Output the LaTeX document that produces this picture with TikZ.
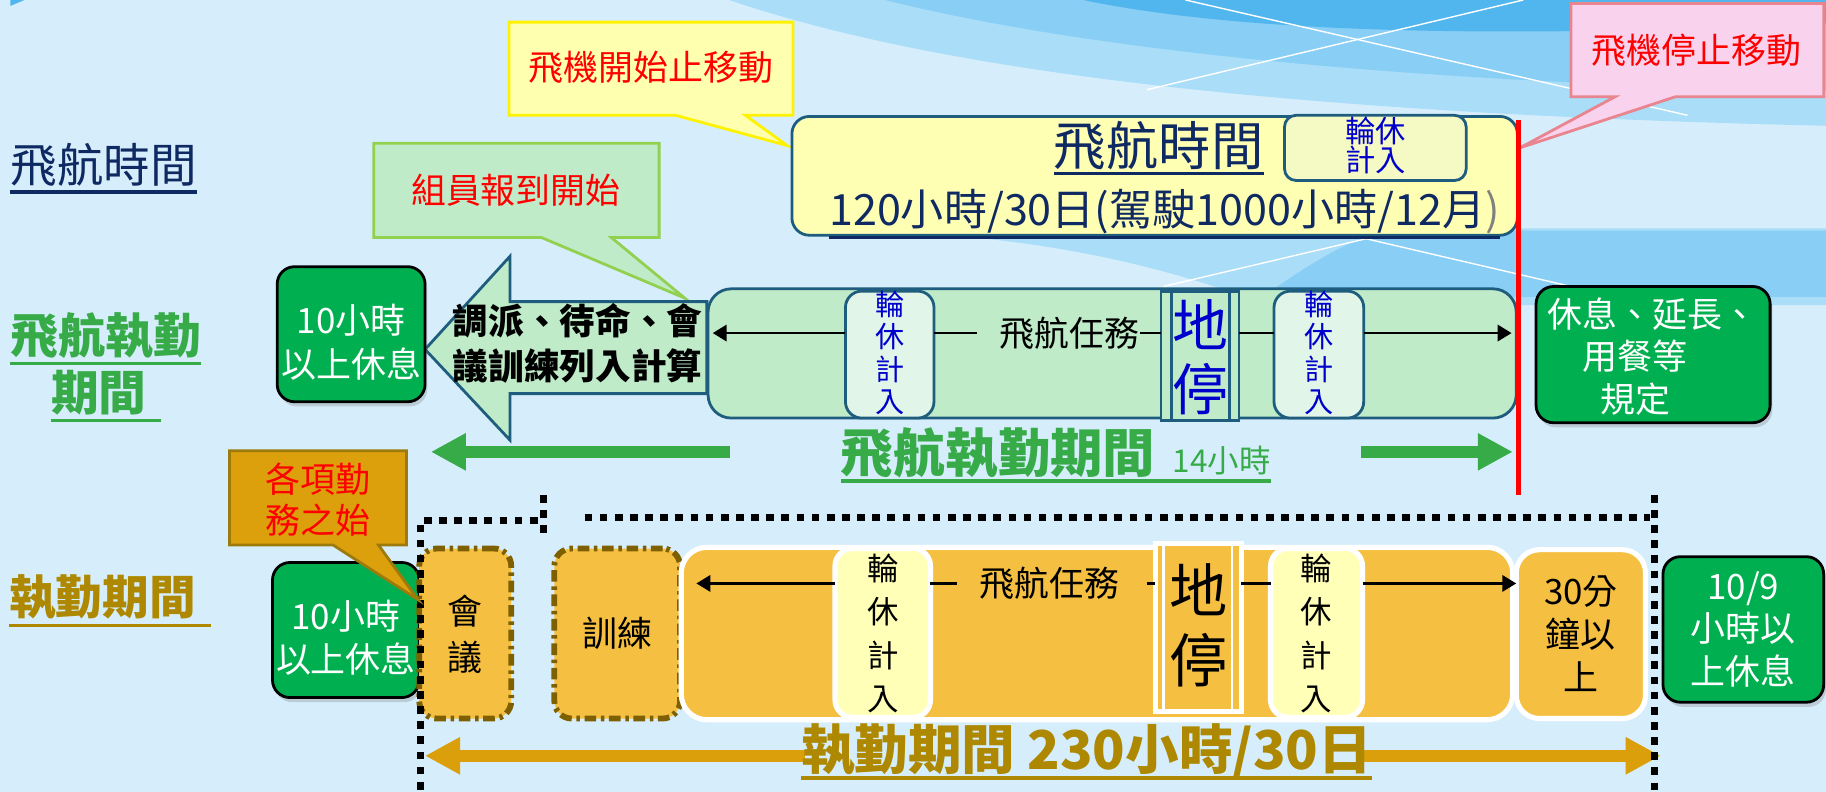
\documentclass[tikz,border=0pt]{standalone}
\usepackage{fontspec}
\setmainfont{Noto Sans CJK TC}
\usetikzlibrary{arrows.meta,calc,shadows}
\newcommand\fsz[2]{\fontsize{#1}{#2}\selectfont}
\definecolor{bgc}{HTML}{D6EEFC}
\definecolor{w1}{HTML}{A9DDF8}
\definecolor{w2}{HTML}{88CEF5}
\definecolor{w3}{HTML}{52B6EE}
\definecolor{navyc}{HTML}{0F2A62}
\definecolor{tealc}{HTML}{1E5D7E}
\definecolor{lgreen}{HTML}{BFEBC9}
\definecolor{lgreen2}{HTML}{E1F6E8}
\definecolor{gtextc}{HTML}{38AB49}
\definecolor{dgreen}{HTML}{00B050}
\definecolor{lyel}{HTML}{FFFFB4}
\definecolor{lyel2}{HTML}{F5F9C4}
\definecolor{orangec}{HTML}{F5BF42}
\definecolor{yelc3}{HTML}{FFFFB8}
\definecolor{goldt}{HTML}{AD8800}
\definecolor{goldarrow}{HTML}{DA9F0A}
\definecolor{brownc}{HTML}{7F6000}
\definecolor{cyelf}{HTML}{FFFFB0}
\definecolor{pinkf}{HTML}{F9D3EE}
\definecolor{pinkd}{HTML}{E8858F}
\definecolor{cgreenf}{HTML}{C0EBC8}
\definecolor{cgreend}{HTML}{92D050}
\definecolor{corangef}{HTML}{DBA00B}
\definecolor{coranged}{HTML}{9C7B0C}
\definecolor{bluec}{HTML}{0000CC}
\begin{document}
\begin{tikzpicture}[x=0.5pt,y=-0.5pt,
  every node/.style={inner sep=0pt,outer sep=0pt},
  tealbox/.style={draw=tealc,line width=1.2pt},
  greenbox/.style={fill=dgreen,draw=black,line width=1.2pt,rounded corners=7.5pt,
    drop shadow={opacity=0.3,shadow xshift=1pt,shadow yshift=-2pt}},
  whitetxt/.style={text=white,align=center},
  obox/.style={fill=orangec,draw=white,line width=2.2pt},
  dashbox/.style={fill=orangec,draw=brownc,line width=2.5pt,rounded corners=7.5pt,
    dash pattern=on 5pt off 2pt on 1.5pt off 2pt},
  conn/.style={line width=1.1pt,draw=black},
  conntip/.style={conn,-{Triangle[length=6pt,width=7pt]}},
  bigarrow/.style={line width=5pt,-{Triangle[length=15pt,width=15pt]}},
  dotline/.style={line width=3pt,dash pattern=on 3.3pt off 3.2pt},
  ulline/.style={line width=1.5pt},
  callout/.style={line width=1.2pt},
  vtxt/.style={align=center}
]
\useasboundingbox (0,0) rectangle (1568,680);
\fill[bgc] (0,0) rectangle (1568,680);
% background waves
\begin{scope}
\clip (0,0) rectangle (1568,680);
\fill[w1] (626,0) .. controls (760,45) and (1000,95) .. (1568,108) -- (1568,0) -- cycle;
\fill[w2] (760,0) .. controls (900,35) and (1150,70) .. (1568,78) -- (1568,0) -- cycle;
\fill[w3] (930,0) .. controls (1050,25) and (1250,35) .. (1568,20) -- (1568,0) -- cycle;
\fill[w1] (700,196) .. controls (900,200) and (1000,230) .. (1090,262) -- (1568,262) -- (1568,196) -- cycle;
\fill[w2] (1187,198) -- (1568,198) -- (1568,255) -- (1084,255) .. controls (1120,230) and (1150,210) .. (1187,198) -- cycle;
\draw[white,line width=0.6pt] (1018,0) -- (1449,99);
\draw[white,line width=0.6pt] (1308,0) -- (985,77);
\draw[white,line width=0.6pt] (999,246) -- (1173,205) -- (1349,246);
\fill[w3] (9,0) -- (21,0) -- (9,5) -- cycle;
\end{scope}

% left labels
\node[text=navyc,font=\fsz{20pt}{24pt}] (lab1) at (89,142) {飛航時間};
\draw[ulline,navyc] (lab1.west |- 0,165) -- (lab1.east |- 0,165);
\node[text=gtextc,font=\bfseries\fsz{20.5pt}{24pt}] (lab2a) at (91,288) {飛航執勤};
\draw[ulline,gtextc] (lab2a.west |- 0,312) -- (lab2a.east |- 0,312);
\node[text=gtextc,font=\bfseries\fsz{20.5pt}{24pt}] (lab2b) at (85,337) {期間};
\draw[ulline,gtextc] (lab2b.west |- 0,361) -- ($(lab2b.east |- 0,361)+(12,0)$);
\node[text=goldt,font=\bfseries\fsz{20pt}{24pt}] (lab3) at (88,513) {執勤期間};
\draw[ulline,goldt] (lab3.west |- 0,537) -- ($(lab3.east |- 0,537)+(13,0)$);

% callouts (top)
\filldraw[callout,fill=cyelf,draw=yellow] (437,19) -- (681,19) -- (681,99) -- (640,99) -- (676,125) -- (580,99) -- (437,99) -- cycle;
\node[text=red,font=\fsz{15pt}{18pt}] (cy) at (559,58) {飛機開始止移動};
\filldraw[callout,fill=pinkf,draw=pinkd] (1349,3) -- (1566,3) -- (1566,83) -- (1439,83) -- (1305,127) -- (1387,83) -- (1349,83) -- cycle;
\node[text=red,font=\fsz{15pt}{18pt}] (cp) at (1457,43) {飛機停止移動};
\filldraw[callout,fill=cgreenf,draw=cgreend] (321,123) -- (566,123) -- (566,204) -- (525,204) -- (588,256) -- (465,204) -- (321,204) -- cycle;
\node[text=red,font=\fsz{15pt}{18pt}] (cg) at (443,163) {組員報到開始};

% row 1: flight time
\node[tealbox,fill=lyel,rounded corners=7.5pt,minimum width=311.5pt,minimum height=51pt] (ftbox) at (991.5,151) {};
\node[tealbox,fill=lyel2,rounded corners=5pt,minimum width=78pt,minimum height=28pt] (ftrest) at (1181,127) {};
\node[text=bluec,font=\fsz{13pt}{12.5pt},align=center] (ftrestt) at (1181,125) {輪休\\計入};
\node[text=navyc,font=\fsz{22.5pt}{27pt}] (fttitle) at (995,125) {飛航時間};
\draw[line width=1.2pt,navyc] (fttitle.west |- 0,149) -- (fttitle.east |- 0,149);
\node[text=navyc,font=\fsz{18.5pt}{22pt}] (ftsub) at (1000,182) {120小時/30日(駕駛1000小時/12月\textcolor{gray}{)}};
\draw[line width=1.2pt,navyc] (ftsub.west |- 0,204) -- (ftsub.east |- 0,204);

% row 2: flight duty period
\filldraw[tealbox,fill=lgreen] (607,259) -- (438,259) -- (438,220) -- (365,300) -- (438,378) -- (438,338) -- (607,338) -- cycle;
\node[font=\bfseries\fsz{15.3pt}{19.5pt},align=center] (bat) at (496,295) {調派、待命、會\\議訓練列入計算};
\node[tealbox,fill=lgreen,rounded corners=10pt,minimum width=347pt,minimum height=55.5pt] (fdbar) at (955,303.5) {};
\node[tealbox,fill=lgreen2,rounded corners=7pt,minimum width=38pt,minimum height=54.5pt] (r1) at (764,304.5) {};
\node[vtxt,text=bluec,font=\fsz{12.5pt}{14pt}] (r1t) at (764,303) {輪\\休\\計\\入};
\node[tealbox,fill=lgreen,minimum width=33.5pt,minimum height=55.5pt] (dt1) at (1030.5,305.5) {};
\draw[tealbox] ($(dt1.north west)+(9,0)$) -- ($(dt1.south west)+(9,0)$);
\draw[tealbox] ($(dt1.north east)+(-8,0)$) -- ($(dt1.south east)+(-8,0)$);
\node[vtxt,text=bluec,font=\fsz{24pt}{27.5pt}] (dt1t) at (1030.5,307) {地\\停};
\node[tealbox,fill=lgreen2,rounded corners=7pt,minimum width=38.5pt,minimum height=54.5pt] (r2) at (1132.5,304.5) {};
\node[vtxt,text=bluec,font=\fsz{12.5pt}{14pt}] (r2t) at (1132.5,303) {輪\\休\\計\\入};
\node[font=\fsz{15pt}{18pt}] (fdtask) at (918.5,286) {飛航任務};
\coordinate (fdL) at (612,286);
\coordinate (fdR) at (1298,286);
\coordinate (fdg1) at (839,286);
\draw[conntip] (r1.west |- fdL) -- (fdL);
\draw[conn] (r1.east |- fdL) -- (fdg1);
\draw[conn] (fdtask.east) -- (dt1.west |- fdL);
\draw[conn] (dt1.east |- fdL) -- (r2.west |- fdL);
\draw[conntip] (r2.east |- fdL) -- (fdR);

\node[greenbox,minimum width=63.5pt,minimum height=58pt] (gb1) at (301.5,287) {};
\node[whitetxt,font=\fsz{15pt}{19pt}] (gb1t) at (301.5,294) {10小時\\以上休息};
\node[greenbox,minimum width=100.5pt,minimum height=58.5pt] (gb2) at (1419.5,304.5) {};
\node[whitetxt,font=\fsz{15pt}{18.25pt}] (gb2t) at (1419,306) {休息、延長、\\用餐等\phantom{一}\\規定\phantom{一}};

\coordinate (ga1s) at (627,388);
\coordinate (ga1t) at (370,388);
\coordinate (ga2s) at (1169,388);
\coordinate (ga2t) at (1299,388);
\draw[bigarrow,gtextc] (ga1s) -- (ga1t);
\draw[bigarrow,gtextc] (ga2s) -- (ga2t);
\node[text=gtextc,font=\bfseries\fsz{22.5pt}{27pt}] (fdlab) at (906.5,389) {飛航執勤期間\hspace{7.5pt}{\mdseries\fsz{13.5pt}{16pt}14小時}};
\draw[ulline,gtextc] (fdlab.west |- 0,413) -- (fdlab.east |- 0,413);

% row 3: duty period
\node[greenbox,minimum width=63pt,minimum height=58pt] (gb3) at (297,541) {};
\node[whitetxt,font=\fsz{15pt}{18.5pt}] (gb3t) at (297,548) {10小時\\以上休息};
\node[dashbox,minimum width=39.5pt,minimum height=73pt] (mtg) at (399.5,544) {};
\node[vtxt,font=\fsz{15pt}{19.5pt}] (mtgt) at (399.5,544.5) {會\\議};
\node[dashbox,minimum width=54pt,minimum height=73pt] (trn) at (530,544) {};
\node[font=\fsz{15pt}{18pt}] (trnt) at (530,544) {訓練};
\node[obox,rounded corners=11pt,minimum width=357pt,minimum height=74pt] (obar) at (942,544) {};
\node[obox,fill=yelc3,rounded corners=7.5pt,minimum width=41pt,minimum height=72.5pt] (y1) at (758,543.5) {};
\node[vtxt,font=\fsz{13.5pt}{18.6pt}] (y1t) at (758,544) {輪\\休\\計\\入};
\node[obox,minimum width=37pt,minimum height=72pt] (dt2) at (1029,539) {};
\draw[white,line width=1.2pt] ($(dt2.north west)+(7,0)$) -- ($(dt2.south west)+(7,0)$);
\draw[white,line width=1.2pt] ($(dt2.north east)+(-8,0)$) -- ($(dt2.south east)+(-8,0)$);
\node[vtxt,font=\fsz{25pt}{30pt}] (dt2t) at (1029,537) {地\\停};
\node[obox,fill=yelc3,rounded corners=7.5pt,minimum width=39.5pt,minimum height=72.5pt] (y2) at (1130.5,543.5) {};
\node[vtxt,font=\fsz{13.5pt}{18.6pt}] (y2t) at (1130.5,544) {輪\\休\\計\\入};
\node[obox,rounded corners=10pt,minimum width=55.5pt,minimum height=72.5pt] (m30) at (1357.5,544.5) {};
\node[vtxt,font=\fsz{15pt}{18.5pt}] (m30t) at (1357.5,544) {30分\\鐘以\\上};
\node[greenbox,minimum width=69pt,minimum height=62.5pt] (gb4) at (1497,540.5) {};
\node[whitetxt,font=\fsz{15pt}{18.25pt}] (gb4t) at (1497,540.5) {10/9\\小時以\\上休息};

\node[font=\fsz{15pt}{18pt}] (dutask) at (901,501) {飛航任務};
\coordinate (duL) at (598,501);
\coordinate (duR) at (1302,501);
\coordinate (dug1) at (822,501);
\coordinate (dug2) at (985,501);
\draw[conntip] (y1.west |- duL) -- (duL);
\draw[conn] (y1.east |- duL) -- (dug1);
\draw[conn] (dug2) -- (dt2.west |- duL);
\draw[conn] (dt2.east |- duL) -- (y2.west |- duL);
\draw[conntip] (y2.east |- duL) -- (duR);

\coordinate (da1s) at (691,649);
\coordinate (da1t) at (365,649);
\coordinate (da2s) at (1170,649);
\coordinate (da2t) at (1426,649);
\draw[bigarrow,goldarrow] (da1s) -- (da1t);
\draw[bigarrow,goldarrow] (da2s) -- (da2t);
\node[text=goldt,font=\bfseries\fsz{23pt}{27pt}] (dulab) at (933,645) {執勤期間 230小時/30日};
\draw[ulline,goldt] (dulab.west |- 0,668) -- (dulab.east |- 0,668);

% dotted bracket
\draw[dotline] (361,678) -- (361,447) -- (462,447);
\draw[dotline] (467,425) -- (467,458);
\draw[dotline] (502,444) -- (1417,444);
\draw[dotline] (1421,425) -- (1421,678);

% orange callout
\filldraw[callout,fill=corangef,draw=coranged] (197,387) -- (349,387) -- (349,468) -- (325,468) -- (359,515) -- (286,468) -- (197,468) -- cycle;
\node[text=red,font=\fsz{15pt}{18pt},align=center] (co) at (273,429) {各項勤\\務之始};

% red stop line
\draw[red,line width=2pt] (1304,103) -- (1304,425);
\end{tikzpicture}
\end{document}
